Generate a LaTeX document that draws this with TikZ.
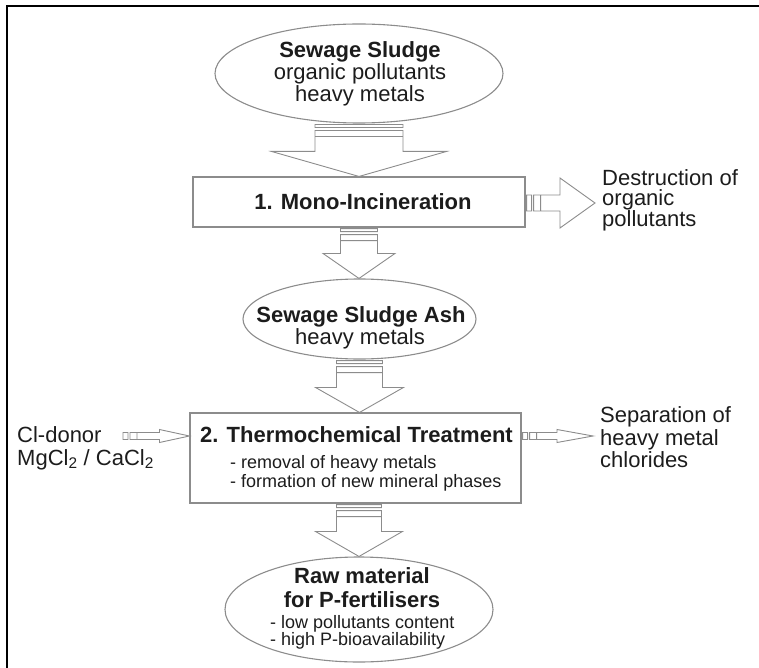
\documentclass[tikz,border=0pt]{standalone}
\usepackage{fontspec}
\setmainfont{Liberation Sans}
\usetikzlibrary{shapes.geometric,calc}
\definecolor{linegray}{HTML}{8C8C8C}
\definecolor{ink}{HTML}{1C1C1C}

% striped block arrow pointing down: tail anchor, tip anchor, shaft half width, head half width
\newcommand\vstriped[4]{%
  \path[arrowline] let \p1=(#1), \p2=(#2) in
    (\x1-#3pt,\y1-1pt) rectangle (\x1+#3pt,\y1-4pt)
    (\x1-#3pt,\y1-7pt) rectangle (\x1+#3pt,\y1-13pt)
    (\x1-#3pt,\y1-13pt) -- (\x1-#3pt,\y2+25pt) -- (\x1-#4pt,\y2+25pt) -- (\x1,\y2)
      -- (\x1+#4pt,\y2+25pt) -- (\x1+#3pt,\y2+25pt) -- (\x1+#3pt,\y1-13pt);
}
% striped block arrow pointing right: tail, tip, shaft half height, head half height, head length
\newcommand\hstriped[5]{%
  \path[arrowline] let \p1=(#1), \p2=(#2) in
    (\x1+1pt,\y2-#3pt) rectangle (\x1+6pt,\y2+#3pt)
    (\x1+8pt,\y2-#3pt) rectangle (\x1+15pt,\y2+#3pt)
    (\x1+15pt,\y2+#3pt) -- (\x2-#5pt,\y2+#3pt) -- (\x2-#5pt,\y2+#4pt) -- (\x2,\y2)
      -- (\x2-#5pt,\y2-#4pt) -- (\x2-#5pt,\y2-#3pt) -- (\x1+15pt,\y2-#3pt);
}

\begin{document}
\begin{tikzpicture}[x=1pt,y=-1pt,
  arrowline/.style={draw=linegray,line width=0.9pt,fill=white,line join=miter},
  oval/.style={ellipse,draw=linegray,line width=1.1pt,inner sep=0pt},
  stage/.style={rectangle,draw=linegray,line width=1.1pt,inner sep=0pt},
  bigbold/.style={font=\fontsize{22}{22}\selectfont\bfseries,text=ink,inner sep=0pt,anchor=base},
  bigtext/.style={font=\fontsize{22}{22}\selectfont,text=ink,inner sep=0pt,anchor=base},
  sidetext/.style={font=\fontsize{22}{22}\selectfont,text=ink,inner sep=0pt,anchor=base west},
  smalltext/.style={font=\fontsize{18}{18}\selectfont,text=ink,inner sep=0pt,anchor=base west}]
\useasboundingbox (0,0) rectangle (759,668);

% frame
\draw[line width=2.5pt,black] (759,6) -- (7,6) -- (7,668);

% process nodes
\node[oval,minimum width=288pt,minimum height=99pt] (e1) at (359,73.5) {};
\node[stage,minimum width=332pt,minimum height=50pt] (b1) at (359,202) {};
\node[oval,minimum width=233pt,minimum height=80pt] (e2) at (359.5,319) {};
\node[stage,minimum width=331pt,minimum height=90pt] (b2) at (355.5,458) {};
\node[oval,minimum width=268pt,minimum height=105pt] (e3) at (359,609.5) {};

% texts
\node[bigbold] (e1a) at (360,58) {Sewage Sludge};
\node[bigtext] (e1b) at (360,80) {organic pollutants};
\node[bigtext] (e1c) at (360,102) {heavy metals};

\node[bigbold] (b1a) at (363,209) {1. Mono-Incineration};

\node[bigbold] (e2a) at (361,322) {Sewage Sludge Ash};
\node[bigtext] (e2b) at (360,344) {heavy metals};

\node[bigbold] (b2a) at (356.5,442) {2. Thermochemical Treatment};
\node[smalltext] (b2b) at (230,468) {- removal of heavy metals};
\node[smalltext] (b2c) at (230,487) {- formation of new mineral phases};

\node[bigbold] (e3a) at (362,583) {Raw material};
\node[bigbold] (e3b) at (362,607) {for P-fertilisers};
\node[smalltext] (e3c) at (270,628) {- low pollutants content};
\node[smalltext] (e3d) at (270,645) {- high P-bioavailability};

\node[sidetext] (d1) at (602,186) {Destruction of};
\node[sidetext] (d2) at (602,206) {organic};
\node[sidetext] (d3) at (602,226) {pollutants};

\node[sidetext] (s1) at (600,422) {Separation of};
\node[sidetext] (s2) at (600,445) {heavy metal};
\node[sidetext] (s3) at (600,467) {chlorides};

\node[sidetext] (c1) at (17,442) {Cl-donor};
\node[sidetext] (c2) at (17,465) {MgCl\textsubscript{2} / CaCl\textsubscript{2}};

% main flow arrows
\vstriped{e1.south}{b1.north}{44}{87.5}
\vstriped{b1.south}{e2.north}{18.5}{36}
\vstriped{e2.south}{b2.north}{23}{44}
\coordinate (b2out) at (b2.south -| e3.north);
\vstriped{b2out}{e3.north}{22.5}{43.5}

% side arrows
\coordinate (destTip) at (595,203);
\hstriped{b1.east |- destTip}{destTip}{8}{25}{35}
\coordinate (clTail) at (122,436);
\hstriped{clTail}{clTail -| b2.west}{3.5}{6.5}{30}
\coordinate (sepTip) at (593,436);
\hstriped{b2.east |- sepTip}{sepTip}{3.5}{6.5}{36}
\end{tikzpicture}
\end{document}
